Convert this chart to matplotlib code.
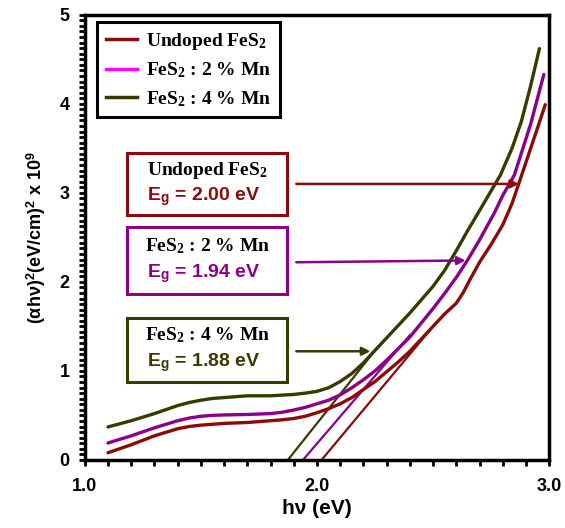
import matplotlib
matplotlib.use('Agg')
import matplotlib.pyplot as plt
from matplotlib.lines import Line2D
from matplotlib.patches import Rectangle
from matplotlib.ticker import MultipleLocator

plt.rcParams['mathtext.fontset'] = 'custom'
plt.rcParams['mathtext.rm'] = 'Liberation Serif:bold'
plt.rcParams['mathtext.bf'] = 'Liberation Serif:bold'
plt.rcParams['mathtext.it'] = 'Liberation Serif:bold:italic'
plt.rcParams['mathtext.sf'] = 'Liberation Sans:bold'

# curves
x_undoped = [1.10, 1.20, 1.30, 1.40, 1.45, 1.50, 1.55, 1.60, 1.70, 1.80, 1.85, 1.90,
             1.95, 2.00, 2.05, 2.10, 2.15, 2.20, 2.25, 2.30, 2.35, 2.40, 2.45, 2.50,
             2.55, 2.60, 2.63, 2.66, 2.70, 2.75, 2.80, 2.84, 2.87, 2.91, 2.95, 2.983]
y_undoped = [0.08, 0.17, 0.27, 0.35, 0.375, 0.39, 0.40, 0.41, 0.42, 0.44, 0.45, 0.465,
             0.49, 0.53, 0.575, 0.63, 0.70, 0.79, 0.88, 0.99, 1.10, 1.22, 1.36, 1.50,
             1.64, 1.76, 1.88, 2.03, 2.22, 2.42, 2.64, 2.88, 3.11, 3.42, 3.73, 3.99]
x_mn2 = [1.10, 1.20, 1.30, 1.40, 1.45, 1.50, 1.55, 1.60, 1.70, 1.80, 1.85, 1.90,
         1.95, 2.00, 2.05, 2.10, 2.15, 2.20, 2.25, 2.30, 2.35, 2.40, 2.45, 2.50,
         2.55, 2.60, 2.65, 2.70, 2.765, 2.80, 2.85, 2.92, 2.977]
y_mn2 = [0.19, 0.27, 0.36, 0.44, 0.47, 0.49, 0.50, 0.505, 0.51, 0.52, 0.535, 0.56,
         0.59, 0.63, 0.67, 0.73, 0.81, 0.90, 1.00, 1.12, 1.25, 1.38, 1.54, 1.70,
         1.87, 2.05, 2.25, 2.47, 2.78, 2.97, 3.20, 3.77, 4.33]
x_mn4 = [1.10, 1.20, 1.30, 1.40, 1.45, 1.50, 1.55, 1.60, 1.70, 1.80, 1.90, 1.95,
         2.00, 2.05, 2.10, 2.15, 2.20, 2.25, 2.30, 2.35, 2.40, 2.45, 2.50, 2.55,
         2.60, 2.65, 2.70, 2.79, 2.84, 2.88, 2.92, 2.958]
y_mn4 = [0.37, 0.44, 0.52, 0.61, 0.645, 0.67, 0.69, 0.70, 0.72, 0.72, 0.735, 0.75,
         0.77, 0.81, 0.88, 0.97, 1.09, 1.23, 1.37, 1.51, 1.65, 1.80, 1.95, 2.13,
         2.35, 2.58, 2.80, 3.20, 3.50, 3.80, 4.20, 4.62]

# tangent lines (x-intercept and end point)
tan_x0 = [2.02, 1.94, 1.875]
tan_end_x = [2.50, 2.40, 2.25]
tan_end_y = [1.50, 1.40, 1.23]

names = ['Undoped FeS$_{\\mathrm{2}}$', 'FeS$_{\\mathrm{2}}$ : 2 % Mn', 'FeS$_{\\mathrm{2}}$ : 4 % Mn']
eg_labels = ['2.00', '1.94', '1.88']
colors = ['#8b0a0a', '#8b008b', '#3a3a00']
legend_colors = ['#8b0a0a', '#ff00ff', '#3a3a00']

fig = plt.figure(figsize=(5.65, 5.28), dpi=100)
ax = fig.add_axes([0.150, 0.129, 0.822, 0.843])

for xs, ys, c in zip([x_undoped, x_mn2, x_mn4], [y_undoped, y_mn2, y_mn4], colors):
    ax.plot(xs, ys, color=c, lw=2.4, solid_capstyle='round', solid_joinstyle='round', zorder=3)

for x0, xe, ye, c in zip(tan_x0, tan_end_x, tan_end_y, colors):
    ax.plot([x0, xe], [0, ye], color=c, lw=1.6, zorder=2)

ax.set_xlim(1.0, 3.0)
ax.set_ylim(0, 5)
ax.xaxis.set_major_locator(MultipleLocator(1.0))
ax.xaxis.set_minor_locator(MultipleLocator(0.1))
ax.yaxis.set_major_locator(MultipleLocator(1.0))
ax.yaxis.set_minor_locator(MultipleLocator(1 / 16))
ax.xaxis.set_major_formatter(plt.FormatStrFormatter('%.1f'))
ax.tick_params(which='both', direction='out', length=4, width=2, top=False, right=False)
ax.tick_params(which='major', labelsize=13)
ax.tick_params(axis='x', which='major', pad=9)
ax.tick_params(axis='y', which='major', pad=7)
for lab in ax.get_xticklabels() + ax.get_yticklabels():
    lab.set_fontfamily('Liberation Sans')
    lab.set_fontweight('bold')
for sp in ax.spines.values():
    sp.set_linewidth(2.5)

ax.set_xlabel('h\u03bd (eV)', fontfamily='Liberation Sans', fontweight='bold', fontsize=15, labelpad=3)
ax.set_ylabel('(\u03b1h\u03bd)$^{\\mathsf{2}}$(eV/cm)$^{\\mathsf{2}}$ x 10$^{\\mathsf{9}}$',
              fontfamily='Liberation Sans', fontweight='bold', fontsize=13, labelpad=8)

handles = [Line2D([], [], color=c, lw=2.5) for c in legend_colors]
leg = ax.legend(handles, names, loc='upper left', bbox_to_anchor=(0.026, 0.984),
                borderaxespad=0, fancybox=False, edgecolor='black', framealpha=1,
                handlelength=1.6, handletextpad=0.5, labelspacing=0.45, borderpad=0.45,
                prop=dict(family='Liberation Serif', weight='bold', size=14))
leg.get_frame().set_linewidth(2.2)

# annotation boxes
box_y0 = [2.748, 1.869, 0.878]
box_y1 = [3.446, 2.613, 1.599]
arrow_y0 = [3.10, 2.22, 1.22]
arrow_y1 = [3.10, 2.24, 1.22]
arrow_x1 = [2.87, 2.64, 2.23]
for i in range(3):
    ax.add_patch(Rectangle((1.181, box_y0[i]), 0.692, box_y1[i] - box_y0[i],
                           fill=False, edgecolor=colors[i], lw=2.2, zorder=4))
    h = box_y1[i] - box_y0[i]
    ax.text(1.527, box_y0[i] + h * 0.72, names[i], ha='center', va='center',
            fontfamily='Liberation Serif', fontweight='bold', fontsize=14, color='black', zorder=5)
    ax.text(1.51, box_y0[i] + h * 0.30, 'E$_{\\mathsf{g}}$ = ' + eg_labels[i] + ' eV',
            ha='center', va='center', fontfamily='Liberation Sans', fontweight='bold',
            fontsize=14, color=colors[i], zorder=5)
    ax.annotate('', xy=(arrow_x1[i], arrow_y1[i]), xytext=(1.911, arrow_y0[i]),
                arrowprops=dict(arrowstyle='-|>', color=colors[i], lw=1.8,
                                mutation_scale=12, shrinkA=0, shrinkB=0), zorder=5)

fig.savefig('out.png', dpi=100)
